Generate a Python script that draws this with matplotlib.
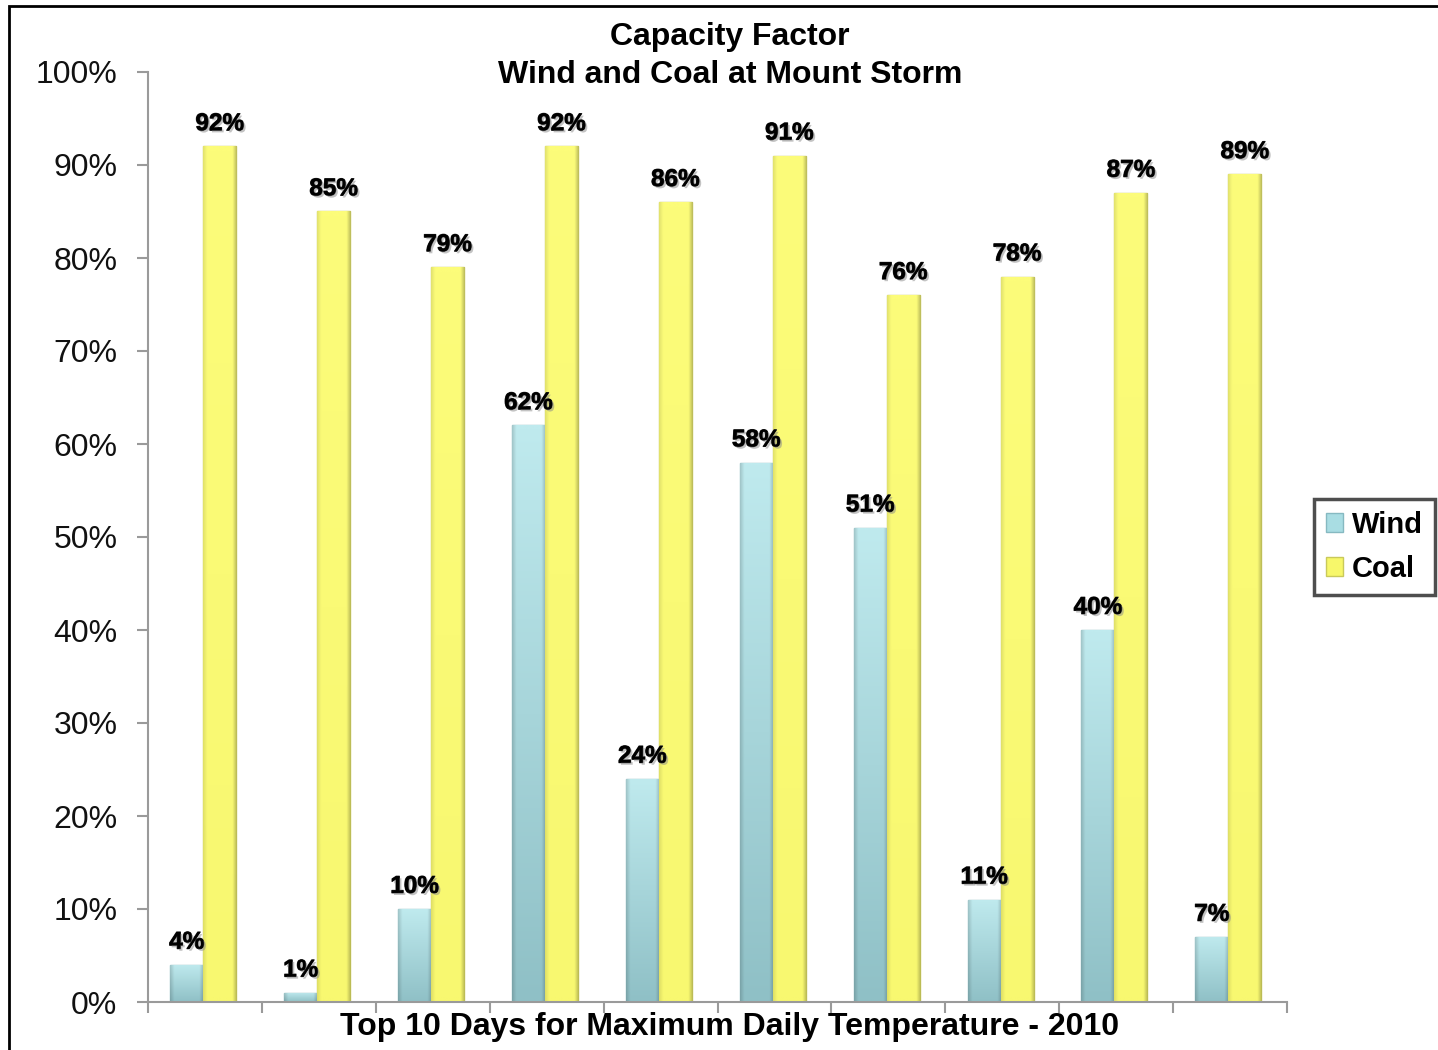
import matplotlib
matplotlib.use("Agg")
import matplotlib.pyplot as plt
import matplotlib.patheffects as pe
import numpy as np
from matplotlib.patches import Rectangle
from matplotlib.colors import to_rgb

days = list(range(1, 11))
wind = [4, 1, 10, 62, 24, 58, 51, 11, 40, 7]
coal = [92, 85, 79, 92, 86, 91, 76, 78, 87, 89]
yticks = [0, 10, 20, 30, 40, 50, 60, 70, 80, 90, 100]
title_lines = ["Capacity Factor", "Wind and Coal at Mount Storm"]
xlabel = "Top 10 Days for Maximum Daily Temperature - 2010"

plt.rcParams['font.family'] = ['Liberation Sans', 'DejaVu Sans']

fig = plt.figure(figsize=(14.38, 10.5), dpi=100)
fig.patches.append(Rectangle((9/1438, -0.01), 1.02, 1 - 6/1050 + 0.01,
                             transform=fig.transFigure, fill=False,
                             edgecolor='black', linewidth=2, zorder=0))
ax = fig.add_axes([148/1438, 1 - 1002/1050, (1287 - 148)/1438, (1002 - 72)/1050])

x = np.arange(len(days))
w = 0.29
off = 0.015
wind_bars = ax.bar(x - w/2 - off, wind, w, color='#a9dde3', edgecolor='#86b9c1',
                   linewidth=1, label='Wind', zorder=2)
coal_bars = ax.bar(x + w/2 - off, coal, w, color='#f7f76a', edgecolor='#c9c95a',
                   linewidth=1, label='Coal', zorder=2)


def shade_image(bottom_c, top_c, left_k, right_k, ny=80, nx=40):
    b = np.array(to_rgb(bottom_c))
    t = np.array(to_rgb(top_c))
    yy = np.linspace(0, 1, ny)[:, None, None]
    base = b + (t - b) * yy
    xx = np.linspace(0, 1, nx)
    edge = np.ones(nx)
    edge = np.where(xx < 0.12, 1 - (1 - left_k) * (0.12 - xx) / 0.12, edge)
    edge = np.where(xx > 0.88, 1 - (1 - right_k) * (xx - 0.88) / 0.12, edge)
    img = base * edge[None, :, None]
    return np.clip(img, 0, 1)


wind_img = shade_image('#8fc0c6', '#bfeaee', 0.85, 0.8)
coal_img = shade_image('#f8f870', '#fcfc7a', 0.9, 0.75)
for bars, img in ((wind_bars, wind_img), (coal_bars, coal_img)):
    for b in bars:
        bx, by, bw, bh = b.get_x(), b.get_y(), b.get_width(), b.get_height()
        im = ax.imshow(img, aspect='auto', origin='lower', interpolation='bilinear',
                       extent=(bx, bx + bw, by, by + bh), zorder=2.5)
        im.set_clip_path(b)

for bars, vals in ((wind_bars, wind), (coal_bars, coal)):
    for b, v in zip(bars, vals):
        t = ax.annotate(f"{v}%", (b.get_x() + b.get_width()/2, v),
                        xytext=(0, 8), textcoords='offset points',
                        ha='center', va='bottom', fontsize=17.5, fontweight='bold',
                        color='black', zorder=5)
        t.set_path_effects([pe.withStroke(linewidth=0.8, foreground='#333333'),
                            pe.SimplePatchShadow(offset=(1.5, -1.5), shadow_rgbFace='#888888', alpha=0.5),
                            pe.Normal()])

ax.set_xlim(-0.5, len(days) - 0.5)
ax.set_ylim(0, 100)
ax.set_yticks(yticks)
ax.set_yticklabels([f"{t}%" for t in yticks], fontsize=23, color='#111111')
ax.set_xticks(np.arange(-0.5, len(days), 1))
ax.set_xticklabels([])
ax.tick_params(axis='both', direction='out', length=8, width=1.5, color='#9a9a9a')
ax.tick_params(axis='y', pad=14)
for s in ['top', 'right']:
    ax.spines[s].set_visible(False)
for s in ['left', 'bottom']:
    ax.spines[s].set_color('#9a9a9a')
    ax.spines[s].set_linewidth(1.5)

fig.text(0.5075, 1 - 37/1050, title_lines[0], ha='center', va='center', fontsize=23,
         fontweight='bold')
fig.text(0.5075, 1 - 75/1050, title_lines[1], ha='center', va='center',
         fontsize=23, fontweight='bold')
fig.text(0.507, 1 - 1027/1050, xlabel, ha='center', va='center', fontsize=23,
         fontweight='bold')

leg = ax.legend(loc='center left', bbox_to_anchor=(1314/1438, 1 - 547/1050),
                bbox_transform=fig.transFigure, fontsize=21, frameon=True,
                fancybox=False, handlelength=0.6, handleheight=0.6,
                handletextpad=0.3, borderpad=0.4, labelspacing=0.55,
                borderaxespad=0)
for txt in leg.get_texts():
    txt.set_fontweight('bold')
leg.get_frame().set_edgecolor('#222222')
leg.get_frame().set_linewidth(2.5)

fig.savefig('out.png', dpi=100)
